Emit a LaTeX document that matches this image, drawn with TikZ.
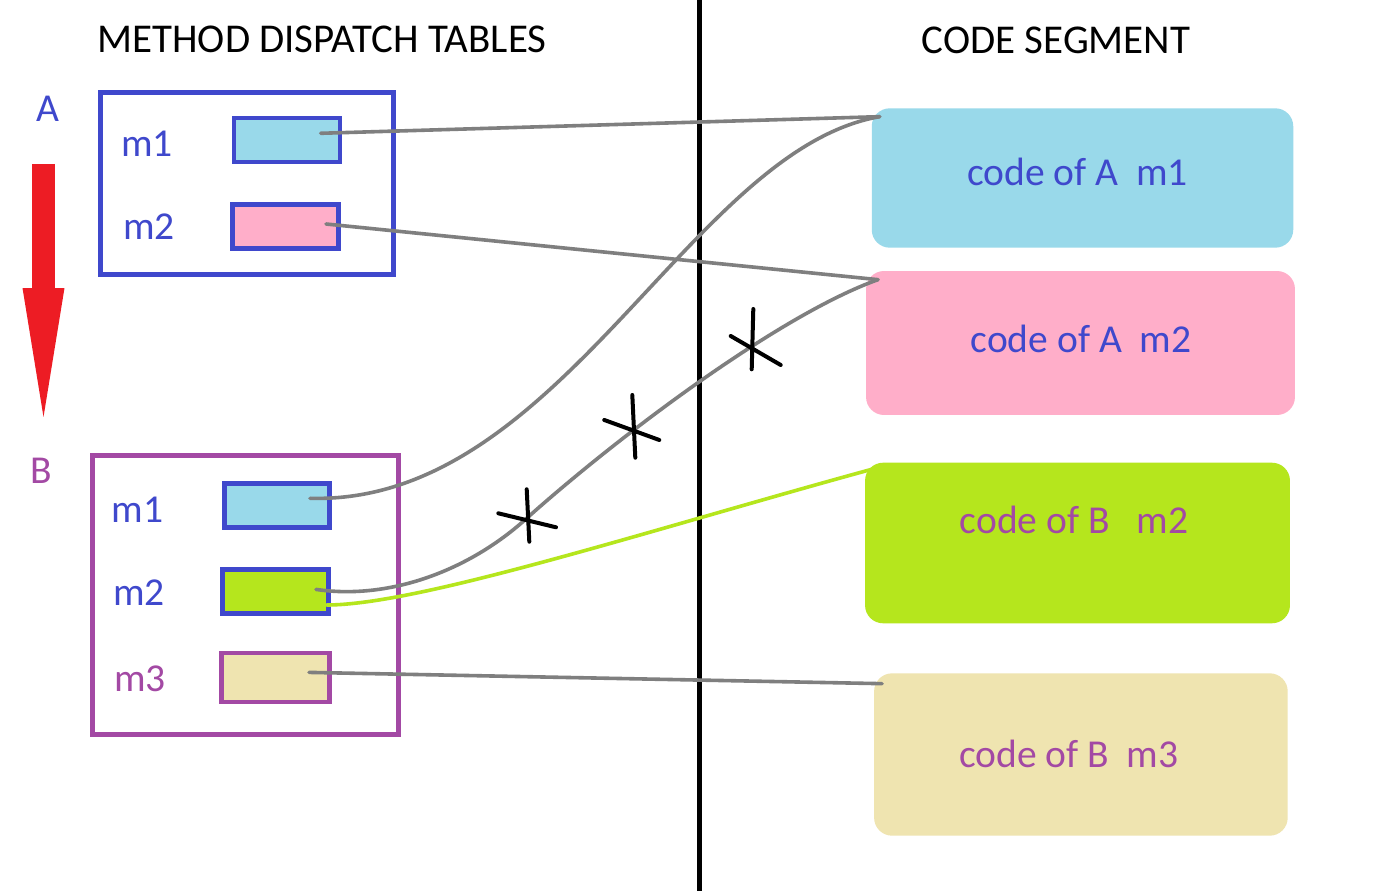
\documentclass[tikz,border=0pt]{standalone}
\usepackage{fontspec}
\setmainfont{Carlito}
\usepackage{xcolor}
\usepackage{tikz}
\usetikzlibrary{arrows.meta,calc}
\definecolor{ablue}{HTML}{3F48CC}
\definecolor{bpurple}{HTML}{A349A4}
\definecolor{inhred}{HTML}{ED1C24}
\definecolor{lightblue}{HTML}{99D9EA}
\definecolor{pinkfill}{HTML}{FFAEC9}
\definecolor{limefill}{HTML}{B5E61D}
\definecolor{tanfill}{HTML}{EFE4B0}
\definecolor{linkgray}{HTML}{7F7F7F}

\begin{document}
\begin{tikzpicture}[
    x=0.02cm, y=-0.02cm,
    txt/.style={font=\fontsize{22.5}{27}\selectfont, inner sep=0pt, anchor=base},
    head/.style={font=\fontsize{23.3}{28}\selectfont, inner sep=0pt, anchor=base},
    dtable/.style={draw, line width=0.09cm, inner sep=0pt},
    slot/.style={draw=ablue, line width=0.09cm, inner sep=0pt, minimum width=2.12cm, minimum height=0.88cm},
    codebox/.style={rounded corners=0.36cm, inner sep=0pt},
    link/.style={draw=linkgray, line width=0.072cm, line cap=round},
    inherit/.style={draw=inhred, line width=0.48cm, -{Triangle[length=2.58cm, width=0.84cm, line width=0pt]}},
    strike/.style={line width=0.08cm, line cap=round}
]
    \fill[white] (0,0) rectangle (1396,891);
    \useasboundingbox (0,0) rectangle (1396,891);

    % headings
    \node[head] (ttables) at (322,52.7) {METHOD DISPATCH TABLES};
    \node[head] (tcode) at (1056,53.3) {CODE SEGMENT};

    % divider between tables and code
    \draw[line width=0.086cm] (699.5,0) -- (699.5,891);

    % dispatch table of A
    \node[txt, text=ablue] (lblA) at (47.5,121.7) {A};
    \node[dtable, draw=ablue, minimum width=5.864cm, minimum height=3.644cm] (tabA) at (246.9,183.4) {};
    \node[txt, text=ablue] (lAm1) at (147,156.7) {m1};
    \node[txt, text=ablue] (lAm2) at (149,240) {m2};
    \node[slot, fill=lightblue] (sAm1) at (287,140) {};
    \node[slot, fill=pinkfill, minimum width=2.13cm] (sAm2) at (285.5,226.5) {};

    % B inherits from A
    \coordinate (inhtop) at (43.5,164);
    \coordinate (inhtip) at (43.5,417);
    \draw[inherit] (inhtop) -- (inhtip);

    % dispatch table of B
    \node[txt, text=bpurple] (lblB) at (41,484) {B};
    \node[dtable, draw=bpurple, minimum width=6.124cm, minimum height=5.578cm] (tabB) at (245.4,595) {};
    \node[txt, text=ablue] (lBm1) at (137.5,522) {m1};
    \node[txt, text=ablue] (lBm2) at (139,605.7) {m2};
    \node[txt, text=bpurple] (lBm3) at (140,691.7) {m3};
    \node[slot, fill=lightblue, minimum width=2.11cm, minimum height=0.89cm] (sBm1) at (277,505.5) {};
    \node[slot, fill=limefill, minimum width=2.13cm, minimum height=0.884cm] (sBm2) at (275.5,591.4) {};
    \node[slot, draw=bpurple, fill=tanfill, minimum width=2.17cm, minimum height=0.976cm] (sBm3) at (275.5,677.4) {};

    % code segment
    \node[codebox, fill=lightblue, minimum width=8.432cm, minimum height=2.788cm] (cAm1) at (1082.5,178) {};
    \node[codebox, fill=pinkfill, minimum width=8.58cm, minimum height=2.88cm] (cAm2) at (1080.5,343) {};
    \node[codebox, fill=limefill, minimum width=8.5cm, minimum height=3.212cm] (cBm2) at (1077.5,543) {};
    \node[codebox, fill=tanfill, minimum width=8.274cm, minimum height=3.248cm] (cBm3) at (1080.9,754.5) {};
    \node[txt, text=ablue] (tAm1) at (1077.5,186) {code of A~~m1};
    \node[txt, text=ablue] (tAm2) at (1081,352.3) {code of A~~m2};
    \node[txt, text=bpurple] (tBm2) at (1074,533.3) {code of B~~~m2};
    \node[txt, text=bpurple] (tBm3) at (1068.8,767.3) {code of B~~m3};

    % pointers from the slots to the code
    \coordinate (cut1) at (527,518);
    \coordinate (cut2) at (633,430);
    \coordinate (cut3) at (752,347);
    \draw[link] ($(sAm1)+(33.7,-6.7)$) -- ($(cAm1.north west)+(8.3,8.7)$);
    \draw[link] ($(sAm2)+(40.5,-2.5)$) -- ($(cAm2.north west)+(12.3,9)$);
    \draw[link] ($(sBm1)+(33,-7.2)$) .. controls +(250,7) and +(-190,33) .. ($(cAm1.north west)+(8.3,8.7)$);
    \draw[link] ($(sBm2)+(40.5,-2)$) .. controls +(74,11) and +(-57,52) .. (cut1)
        .. controls +(93,-83) and +(-98,35) .. ($(cAm2.north west)+(12.3,9)$);
    \draw[link, draw=limefill] ($(sBm2)+(51.2,13.6)$) .. controls +(93,0) and +(-223,61) .. ($(cBm2.north west)+(8.3,6.6)$);
    \draw[link] ($(sBm3)+(33.5,-5)$) -- ($(cBm3.north west)+(8.3,10.7)$);

    % overridden pointer struck out
    \draw[strike] (cut1) ++(-0.3,-28.7) -- ++(2.6,52.4) (cut1) ++(-28.7,-4.7) -- ++(57.7,14);
    \draw[strike] (cut2) ++(-0.7,-35) -- ++(3,62.7) (cut2) ++(-28.7,-10) -- ++(55,20);
    \draw[strike] (cut3) ++(1.3,-38) -- ++(-1.6,60.3) (cut3) ++(-21.3,-11) -- ++(50,29);
\end{tikzpicture}
\end{document}
